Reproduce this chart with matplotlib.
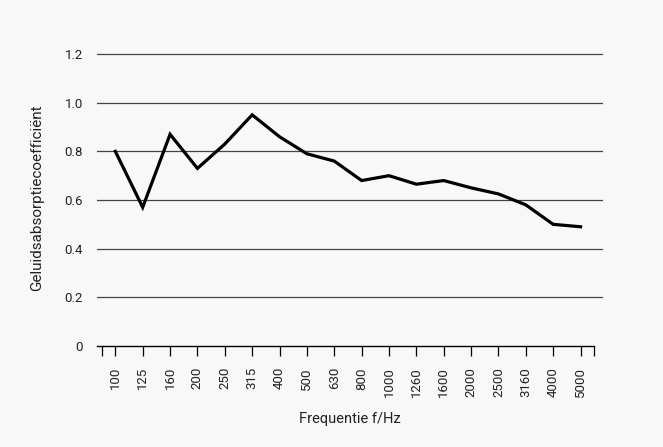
import numpy as np
import matplotlib
matplotlib.use("Agg")
import matplotlib.pyplot as plt

plt.rcParams['font.family'] = ['Roboto', 'DejaVu Sans']

# frequency bands and measured absorption
freqs = ["100", "125", "160", "200", "250", "315", "400", "500", "630", "800",
         "1000", "1260", "1600", "2000", "2500", "3160", "4000", "5000"]
alpha = [0.80, 0.57, 0.87, 0.73, 0.83, 0.95, 0.86, 0.79, 0.76, 0.68,
         0.70, 0.665, 0.68, 0.65, 0.625, 0.58, 0.50, 0.49]
y_ticks = [0, 0.2, 0.4, 0.6, 0.8, 1.0, 1.2]
y_labels = ["0", "0.2", "0.4", "0.6", "0.8", "1.0", "1.2"]

bg = "#f8f8f8"
txt = "#222222"
fig = plt.figure(figsize=(6.63, 4.47), dpi=100, facecolor=bg)
ax = fig.add_axes([0.1463, 0.226, 0.7632, 0.664])
ax.set_facecolor(bg)

x = np.arange(len(freqs))
ax.plot(x, alpha, color="black", lw=2.3, solid_joinstyle="miter", zorder=3)

ax.set_xlim(-0.67, 17.82)
ax.set_ylim(0, 1.22)

ax.set_yticks(y_ticks)
ax.set_yticklabels(y_labels)
for v in y_ticks[1:]:
    ax.axhline(v, color="#444444", lw=0.9, zorder=1)

ax.set_xticks(x)
ax.set_xticklabels(freqs, rotation=90)
ax.set_xticks([-0.5, 17.5], minor=True)

for s in ["top", "right", "left"]:
    ax.spines[s].set_visible(False)
ax.spines["bottom"].set_bounds(-0.67, 17.5)
ax.spines["bottom"].set_linewidth(1.0)

ax.tick_params(axis="y", length=0, pad=10, labelsize=9.5, labelcolor=txt)
ax.tick_params(axis="x", which="both", direction="out", length=7.2, width=0.9,
               pad=8, labelsize=9.5, labelcolor=txt)

ax.set_xlabel("Frequentie f/Hz", fontsize=10.5, color=txt, labelpad=11)
ax.set_ylabel("Geluidsabsorptiecoefficiënt", fontsize=11, color=txt, labelpad=15)

fig.savefig("out.png", dpi=100, facecolor=bg)
